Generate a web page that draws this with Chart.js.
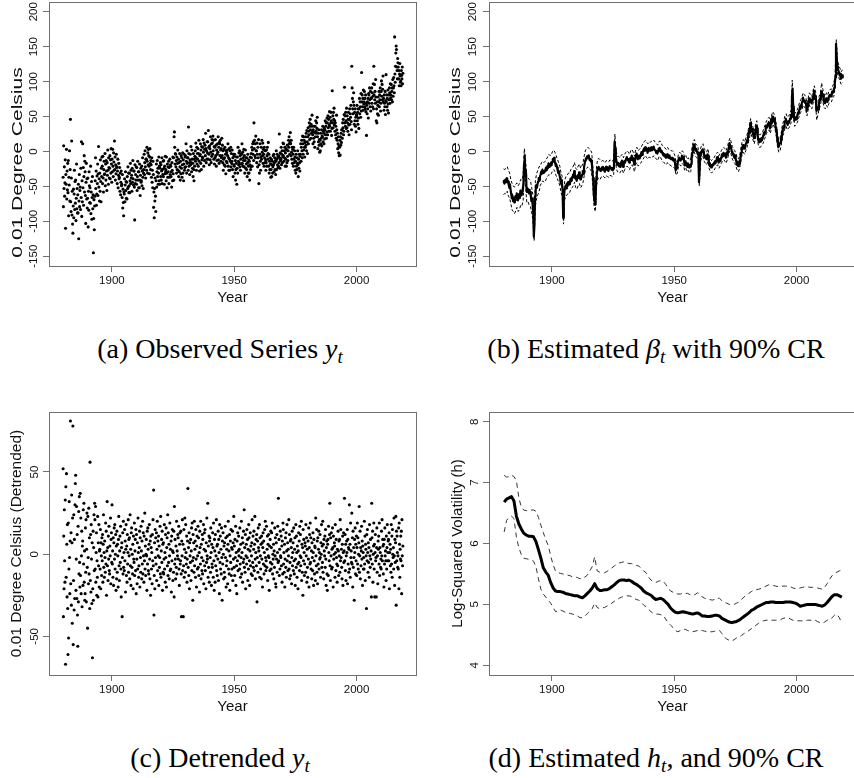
<!DOCTYPE html>
<html>
<head>
<meta charset="utf-8">
<title>Observed series, trend and volatility</title>
<script src="https://cdn.jsdelivr.net/npm/chart.js@4.4.1/dist/chart.umd.min.js"></script>
<style>
  html, body { margin:0; padding:0; background:#fff; }
  body { width:854px; height:778px; overflow:hidden; position:relative; }
  canvas { position:absolute; display:block; }
  .cap { position:absolute; transform:translateX(-50%); white-space:nowrap;
         font-family:"Liberation Serif","Times New Roman",serif; font-size:28px; line-height:32px; color:#000; }
  .cap sub { font-size:19px; line-height:0; vertical-align:-5px; }
</style>
</head>
<body>
<canvas id="cA" width="427" height="310" style="left:0;top:0"></canvas>
<canvas id="cB" width="429" height="310" style="left:427px;top:0"></canvas>
<canvas id="cC" width="427" height="310" style="left:0;top:410px"></canvas>
<canvas id="cD" width="429" height="310" style="left:427px;top:410px"></canvas>
<div class="cap" style="left:220px;top:333px">(a) Observed Series <i>y<sub>t</sub></i></div>
<div class="cap" style="left:656px;top:333px">(b) Estimated <i>β<sub>t</sub></i> with 90% CR</div>
<div class="cap" style="left:220px;top:742px">(c) Detrended <i>y<sub>t</sub></i></div>
<div class="cap" style="left:656px;top:742px">(d) Estimated <i>h<sub>t</sub></i>, and 90% CR</div>
<script>
// ---------------- data ----------------
const firstYear = 1880;                 // every series runs 1880 ... 2018
const xTickYears = [1900, 1950, 2000];
const tempTicks = [-150, -100, -50, 0, 50, 100, 150, 200];
const detTicks = [-50, 0, 50];
const volTicks = [4, 5, 6, 7, 8];

// (a) observed series y_t, 0.01 deg C, eight readings per year (one line per year)
const observed = [
-37,-79,8,-53,-22,-64,-45,-12,
-110,-33,-47,3,-68,-28,-55,-17,
-59,-13,-92,-37,-48,1,-71,-26,
46,-72,-86,-38,15,-91,-57,-104,
-117,-78,-54,-95,-61,-27,-83,-43,
-74,-41,-99,-67,-18,-82,-53,-88,
-62,-88,-47,-125,-71,-33,-79,-56,
-51,-83,-24,-66,14,-93,-42,-72,
11,-52,-23,-77,-36,-6,-58,-14,
-29,-63,-103,-44,-17,-68,-39,-81,
-67,-38,-108,-57,-84,-29,-49,-73,
-52,-74,-21,-89,-58,-43,-97,-66,
-36,-82,-62,-145,-96,-69,-112,-78,
-64,-42,-9,-53,-28,-77,-61,-35,
-46,-18,-63,-32,7,-51,-39,-71,
-31,-57,-12,-43,-72,-24,-36,-8,
-21,-46,-7,-38,-58,-26,-14,-33,
-32,-3,-49,-18,-41,-13,-28,-56,
-16,-34,2,-27,-47,-9,-23,-38,
-24,-6,-39,-12,-31,4,-18,-44,
-11,-29,3,-21,-36,-2,-15,-27,
15,-26,-8,-41,-19,-32,-4,-23,
-22,-46,-28,-11,-52,-34,-17,-39,
-37,-23,-57,-31,-62,-44,-28,-49,
-47,-66,-33,-81,-54,-73,-92,-58,
-61,-39,-72,-48,-29,-56,-43,-67,
-44,-68,-36,-53,-22,-51,-31,-59,
-49,-31,-59,-42,-17,-46,-27,-38,
-34,-57,-24,-44,-13,-39,-48,-28,
-28,-51,-98,-19,-46,-33,-41,-22,
-47,-23,-56,-36,-14,-41,-29,-52,
-29,-52,-18,-41,-63,-34,-24,-44,
-42,-21,-49,-28,-9,-37,-53,-31,
-26,-4,-33,-16,1,-22,-38,-11,
-11,-27,6,-14,-31,-2,-19,3,
-6,-21,-32,-8,4,-17,-26,-13,
-19,-37,-9,-44,-27,-52,-14,-33,
-80,-58,-95,-53,-71,-38,-64,-86,
-42,-18,-51,-29,-13,-36,-24,-47,
-31,-8,-42,-21,-47,-24,-16,-36,
-19,-41,-28,-9,-46,-26,-33,-14,
-36,-13,-24,-47,-21,-32,-7,-29,
-26,-42,-8,-31,-52,-18,-37,-22,
-29,-14,-46,-23,-37,-11,-33,-19,
-21,-36,-29,-51,-16,-27,-42,-8,
-32,-9,-41,21,28,6,-18,-3,
-4,-22,-13,-31,-8,-26,-17,2,
-27,-11,-36,-16,-29,-3,-22,-41,
-14,-32,-6,-24,-9,-37,-19,-2,
-31,-12,-42,-18,-4,-27,-23,-8,
-6,-22,11,-14,-31,1,-17,-9,
-9,-27,35,-3,-21,-16,-33,-12,
-4,-19,7,-16,-29,2,-11,-24,
-17,-36,-3,-26,-42,-11,-21,-7,
1,-14,12,-9,-27,6,-18,-3,
-11,4,-21,-3,16,-14,-28,-6,
-4,11,-17,2,-26,7,-12,-8,
6,-9,17,-1,-21,12,-13,3,
9,-6,26,4,-16,1,-11,14,
-2,14,-11,30,6,-4,-19,8,
4,-12,21,-1,-16,11,-7,17,
12,-4,22,1,16,-11,7,-18,
6,-9,17,-6,9,-21,2,-13,
-4,11,-1,21,-12,6,-17,13,
11,-6,16,2,-14,4,-9,19,
-6,9,-16,1,-27,-11,3,-19,
-9,6,-21,-4,-32,1,-14,-2,
-16,2,-6,11,-21,-9,-27,4,
-11,-27,1,-14,6,-22,-3,-17,
-14,2,-26,-9,-36,-4,-19,-7,
-21,-4,-31,-13,-41,-26,-17,-8,
-47,-24,-8,-31,6,-14,-19,-2,
-16,1,-22,-6,-27,-11,-3,-18,
-4,11,-17,-1,-21,-9,-13,3,
-22,-6,-31,-13,2,-24,-9,-18,
-26,-9,-36,-16,-4,-31,-21,-12,
-31,-14,-41,-19,-8,-26,-22,-3,
-9,6,-21,2,11,-4,14,-13,
41,4,16,-6,11,-9,22,1,
1,-16,12,-4,-22,6,-9,17,
-46,-19,-31,-4,11,-14,-27,-8,
6,-11,16,-1,-6,12,-17,3,
-4,-21,6,-9,-16,1,-12,-27,
-16,2,-21,-6,6,-11,-3,13,
-21,-4,-31,-14,-26,-9,-18,-37,
-26,-11,-36,-19,-14,-31,-22,-6,
-19,-4,-29,-16,-9,-26,-13,-33,
-14,1,-26,-11,-4,-19,-8,-23,
-21,-6,-16,25,-9,-24,-2,-13,
-11,6,-19,-4,1,-16,-8,12,
-6,11,-14,1,-9,6,-21,-2,
-11,4,-21,2,-16,9,-7,-13,
1,16,6,21,11,-4,13,27,
11,-6,16,-1,-11,6,-17,3,
-4,-21,6,-11,-16,1,-8,-27,
-14,-31,-4,-21,-26,-9,-17,1,
-19,-36,-11,-24,-4,-16,-28,-7,
-4,11,-14,6,16,1,-9,22,
11,-4,21,2,16,6,-8,13,
6,21,9,26,1,30,14,-3,
21,34,11,29,24,41,17,36,
46,31,19,39,26,36,52,28,
24,11,31,19,36,14,27,6,
36,21,44,29,26,41,33,49,
21,4,26,14,31,9,17,-1,
16,1,26,11,19,31,8,22,
21,36,14,29,26,11,33,18,
31,44,24,36,41,19,28,48,
41,24,51,34,46,29,38,57,
36,49,29,41,56,44,23,33,
87,41,51,34,56,46,62,38,
44,29,41,24,36,19,52,31,
16,26,4,11,21,-2,8,-6,
6,16,-5,21,9,26,13,31,
31,19,41,34,46,24,29,53,
92,41,51,36,56,44,33,62,
34,51,41,29,46,56,38,24,
46,61,39,54,49,66,43,31,
122,91,76,61,54,71,84,66,
39,56,44,61,36,49,28,53,
51,66,44,56,39,61,48,33,
61,76,54,71,64,49,83,58,
113,71,81,64,76,59,88,68,
71,86,64,76,61,81,57,69,
23,66,54,71,61,76,48,83,
81,69,91,74,64,86,58,77,
76,91,69,84,64,79,97,61,
122,81,96,74,86,69,103,78,
44,61,41,71,54,66,78,52,
71,86,64,81,74,91,58,69,
86,101,79,96,74,89,108,71,
76,59,81,69,64,86,53,73,
110,71,81,64,76,59,88,68,
55,81,74,91,84,69,97,77,
81,96,74,86,91,71,103,79,
91,106,94,84,164,111,99,122,
141,151,146,121,116,104,133,127,
121,104,116,94,111,126,108,99,
101,94,116,109,104,121,97,112
];

// (c) detrended series, 0.01 deg C, eight readings per year (one line per year)
const detrended = [
52,-38,11,-21,27,-4,-17,33,
-67,41,-14,49,6,-26,18,-33,
-61,19,-51,-9,32,-2,-24,8,
81,-18,13,-31,36,7,-42,22,
78,-55,-16,24,-34,9,-27,30,
43,48,-22,-3,29,-27,12,-37,
-56,17,-29,26,-12,35,-5,-20,
37,-13,22,-24,-1,14,-32,5,
8,-19,27,-6,31,-17,2,-28,
-24,16,-11,21,-29,3,25,-8,
-45,23,-2,-18,28,-12,10,-33,
56,-16,12,-23,18,-3,-30,7,
-63,-21,14,-28,4,24,-10,31,
21,-9,29,-17,1,13,-25,-4,
-14,23,-26,7,-7,18,-20,2,
3,-9,15,-21,7,-1,-13,10,
-4,12,-17,6,24,-8,1,-14,
8,-2,-11,19,-6,14,-25,2,
32,-7,4,-16,11,-3,17,-10,
-12,5,-1,22,-18,9,13,-5,
30,-6,2,-14,10,-19,7,16,
-3,18,-9,0,12,-22,5,-15,
14,-11,6,-1,-20,9,23,-7,
-16,2,11,-5,17,-9,-26,4,
7,-38,-2,13,-12,20,-8,1,
-10,15,-4,8,-23,3,18,-13,
5,-17,12,-6,1,21,-11,9,
-1,10,-15,24,-7,3,-19,13,
16,-8,0,-12,6,-21,11,-3,
-5,19,-13,2,9,-10,15,-24,
12,-3,-18,7,-9,22,1,-14,
-7,4,14,-20,10,-2,-11,17,
2,-15,8,-6,20,-12,13,-1,
-17,11,-4,25,-9,5,-13,0,
9,-1,-22,14,-6,16,3,-10,
-12,6,18,-3,-15,8,-25,11,
4,-9,1,-18,12,-4,21,-7,
39,-37,-13,7,-21,15,-2,10,
-6,13,-16,3,20,-10,8,-1,
11,-19,5,-8,-2,17,-12,23,
-14,2,9,-5,14,-22,6,-11,
7,-12,-3,18,-9,1,-17,12,
-2,16,-20,4,10,-7,24,-13,
13,-5,6,-15,-1,19,-10,3,
-9,8,-23,11,-4,15,2,-16,
1,-11,14,-26,29,-6,9,-3,
-15,5,-8,20,-12,2,-1,12,
10,-3,17,-9,-19,6,13,-6,
-4,14,-12,-38,8,-1,21,-10,
6,-38,-7,15,-14,3,22,-2,
-11,18,1,-6,11,-17,-3,8,
40,-8,4,-13,13,-21,7,-1,
-5,9,-16,2,16,-10,19,-4,
-28,12,-2,7,-11,20,-7,3,
8,-14,15,-3,-20,5,11,-9,
-1,17,-8,10,-13,1,-23,14,
4,-6,20,-15,6,-2,-10,12,
-12,9,-4,18,-18,3,13,-7,
15,-10,2,-21,7,-5,22,-1,
-3,31,-14,5,-8,11,-17,8,
10,-2,-11,16,1,-19,6,-6,
-8,13,4,-14,19,-4,-22,9,
2,-17,12,-7,-1,21,-10,5,
-13,6,-3,14,-16,9,1,-24,
18,-5,11,-9,3,-12,16,-2,
-28,8,-6,13,0,-15,5,-11,
7,-14,17,-2,10,-20,-7,3,
-4,11,-18,6,20,-9,2,-12,
12,-22,-1,8,-5,15,-13,4,
-9,3,14,-16,7,-3,23,-8,
5,-13,9,-2,17,-19,1,-7,
-24,8,-4,13,-10,2,11,-1,
3,-9,16,-6,-14,6,-2,20,
-12,1,10,-17,7,-5,14,-3,
27,-8,4,-11,12,-21,-1,6,
-6,15,-2,9,-16,3,-9,18,
10,-4,-19,2,13,-7,5,-12,
-1,7,21,-13,-5,11,-8,3,
14,-10,6,23,-3,-15,1,9,
-7,12,-29,-2,8,-11,16,4,
2,-5,18,-14,10,-1,-9,6,
-15,11,-3,7,-20,4,13,-6,
8,-12,1,15,-7,20,-2,-10,
-4,17,-8,3,11,-16,6,-1,
12,-2,-22,5,-10,9,-5,14,
-9,4,13,-6,19,-12,0,-3,
6,-15,2,-8,16,-1,10,-18,
-20,7,-3,12,-11,1,17,-5,
34,-4,9,-13,3,-9,14,-1,
-2,11,-7,5,-17,8,-12,19,
15,-6,1,-11,6,-20,-3,10,
-8,13,-14,2,18,-4,7,-10,
3,-1,21,-9,12,-15,-5,8,
-13,9,4,-18,-2,14,-7,1,
7,-10,16,-4,-12,3,10,-19,
-3,18,-8,11,1,-14,5,-6,
-21,2,13,-5,8,-10,17,-1,
12,-7,-2,20,-16,6,-11,4,
-25,15,-4,9,1,-13,-6,7,
5,-11,18,-1,10,-17,3,-8,
-14,8,-3,16,-20,4,12,-6,
19,-5,10,-9,2,-15,7,-2,
-10,13,1,-19,9,-4,-12,5,
4,-16,22,-1,-7,15,-11,8,
-18,10,-6,3,14,-9,1,-3,
12,-2,-14,7,0,18,-8,5,
-5,20,-11,6,-15,9,2,-1,
11,-8,15,-3,-19,4,8,-12,
-22,6,9,-13,17,1,-4,12,
31,-7,-16,10,-1,13,-9,3,
-8,16,4,-20,11,-3,0,7,
5,-14,18,1,-10,9,-2,-6,
-17,3,-7,14,2,-13,8,-1,
9,-11,21,-4,15,-2,3,-8,
-15,6,11,-19,1,13,-5,2,
34,-4,12,-10,6,-16,-1,8,
1,15,-18,9,-6,4,-11,3,
30,-9,6,-14,19,-2,2,-5,
25,-6,10,-20,14,-8,4,-2,
-28,9,1,16,-12,6,-4,11,
-13,4,19,-6,10,-9,0,7,
29,-11,-1,14,-15,4,-7,2,
17,-3,8,-19,5,1,-9,-2,
-9,20,-6,11,-16,6,3,-1,
-33,12,-4,15,1,-11,7,-5,
4,-14,18,-1,-8,9,-3,2,
-26,31,10,-6,14,-17,0,5,
19,-9,6,-26,1,12,-4,-2,
-26,4,16,-11,-1,-18,8,3,
11,-6,19,-13,4,1,-8,-3,
-9,14,-1,21,-4,9,5,-12,
6,-20,9,-6,16,-1,2,-4,
-16,11,-9,4,18,-4,1,8,
9,-4,13,-21,1,6,-7,3,
-11,18,-6,11,-14,15,0,-2,
4,-9,22,-1,-19,9,-5,7,
23,-31,14,-4,11,1,-8,-1,
-9,16,-21,19,6,-14,3,-3,
11,-4,14,-24,21,-1,-7,5
];

// (b) estimated trend beta_t, four readings per year (one line per two years)
const betaMean = [
-45,-42,-46,-41, -40,-44,-38,-41,
-43,-48,-52,-47, -55,-61,-67,-63,
-71,-66,-73,-68, -64,-69,-60,-63,
-70,-66,-61,-67, -56,-59,-63,-57,
-54,-46,-18,-6, -34,-27,-52,-58,
-53,-57,-60,-55, -58,-63,-71,-68,
-76,-88,-122,-105, -64,-56,-48,-52,
-47,-43,-38,-41, -36,-33,-29,-32,
-26,-30,-31,-28, -29,-26,-23,-27,
-21,-24,-17,-19, -22,-18,-16,-20,
-15,-11,-13,-9, -14,-17,-21,-19,
-23,-27,-31,-28, -34,-38,-46,-43,
-48,-55,-95,-70, -57,-52,-49,-53,
-46,-50,-44,-47, -43,-47,-39,-42,
-40,-36,-33,-37, -28,-33,-39,-36,
-42,-37,-34,-38, -30,-35,-40,-36,
-37,-33,-28,-32, -23,-18,-13,-10,
-11,-7,-9,-6, -8,-12,-11,-14,
-13,-19,-32,-38, -62,-69,-76,-67,
-40,-31,-26,-23, -22,-26,-25,-28,
-27,-23,-25,-22, -24,-27,-29,-25,
-22,-26,-23,-27, -28,-24,-21,-24,
-23,-26,-24,-27, -24,-19,14,4,
-8,-13,-19,-16, -17,-21,-18,-22,
-19,-15,-13,-17, -22,-18,-14,-16,
-13,-10,-8,-12, -11,-14,-16,-13,
-9,-12,-6,-9, -13,-10,-19,-17,
-9,-6,-3,-7, -11,-8,-6,-10,
-7,-4,-1,-5, -1,2,4,1,
6,3,1,4, -2,2,5,1,
1,4,6,2, 2,5,7,3,
3,1,-2,1, -3,0,4,2,
5,2,-1,1, -2,-4,-6,-4,
-5,-8,-9,-7, -4,-7,-9,-6,
-7,-10,-11,-9, -9,-12,-13,-11,
-13,-18,-27,-22, -24,-18,-13,-10,
-9,-12,-13,-11, -6,-9,-11,-8,
-16,-20,-14,-17, -19,-22,-17,-19,
-23,-20,-21,-18, -8,-2,6,3,
10,6,1,4, 2,-1,-4,-2,
-44,-28,-6,-3, -1,2,3,0,
-4,-7,-9,-6, -11,-8,-4,-7,
-14,-17,-21,-19, -23,-20,-21,-18,
-19,-16,-14,-17, -13,-10,-8,-12,
-16,-13,-11,-14, -9,-6,-4,-7,
-2,-5,-6,-3, -9,-6,-1,-4,
3,7,12,8, 6,3,-1,-4,
-4,-7,-9,-6, -11,-14,-19,-16,
-21,-18,-14,-17, -7,-2,6,3,
9,6,4,7, 8,12,16,13,
20,25,30,26, 41,35,29,32,
26,23,19,22, 28,32,37,33,
22,18,13,16, 14,17,19,16,
19,23,27,24, 28,32,37,34,
37,40,42,38, 33,37,44,40,
50,46,43,47, 42,37,31,28,
17,12,6,9, 9,13,19,16,
28,32,36,34, 40,44,47,43,
41,38,43,41, 44,47,52,49,
78,90,64,56, 44,47,49,46,
49,52,56,54, 60,64,66,63,
69,72,77,74, 73,70,71,68,
58,63,69,66, 76,73,71,74,
69,73,79,76, 87,82,77,79,
58,62,63,60, 68,72,76,74,
86,83,79,81, 73,70,69,71,
76,73,71,74, 77,80,81,79,
79,83,86,84, 86,91,98,106,
154,138,122,117, 116,112,109,111,
104,107,109,106
];
// 90% credible band for beta_t, two readings per year (one line per five years)
const betaLower = [
-62,-60, -61,-57, -64,-67, -75,-84, -86,-89,
-85,-80, -86,-83, -77,-78, -70,-30, -50,-73,
-72,-77, -79,-88, -98,-128, -78,-68, -62,-58,
-49,-45, -42,-44, -43,-39, -36,-33, -34,-32,
-28,-26, -29,-35, -39,-44, -49,-59, -64,-104,
-69,-64, -62,-59, -59,-54, -52,-49, -44,-52,
-54,-49, -46,-52, -49,-44, -34,-26, -24,-22,
-24,-26, -29,-49, -79,-86, -49,-39, -38,-40,
-36,-35, -36,-38, -35,-36, -37,-34, -35,-36,
-33,-5, -21,-29, -29,-31, -28,-26, -31,-26,
-23,-21, -23,-26, -21,-19, -23,-29, -19,-16,
-21,-19, -17,-14, -11,-8, -6,-9, -11,-8,
-9,-7, -8,-6, -9,-11, -13,-8, -7,-11,
-14,-16, -17,-19, -16,-19, -19,-21, -21,-23,
-24,-34, -31,-21, -19,-21, -17,-19, -27,-24,
-29,-27, -31,-29, -14,-4, -1,-7, -9,-12,
-49,-14, -9,-7, -14,-17, -19,-14, -24,-29,
-31,-29, -27,-24, -21,-19, -24,-21, -17,-14,
-12,-14, -17,-11, -4,1, -4,-11, -14,-17,
-21,-27, -29,-24, -14,-4, -1,-4, 1,6,
13,19, 29,21, 16,11, 21,26, 11,6,
6,9, 11,16, 21,26, 29,31, 26,33,
39,36, 31,21, 6,-1, 1,9, 21,26,
33,36, 31,33, 36,41, 74,51, 36,39,
41,46, 53,56, 61,66, 63,61, 51,59,
66,63, 61,69, 76,69, 45,53, 61,66,
76,71, 63,61, 66,63, 69,71, 71,76,
79,91, 138,110, 106,101, 96,99
];
const betaUpper = [
-25,-26, -23,-22, -27,-31, -41,-46, -50,-51,
-47,-45, -49,-46, -40,-41, -34,4, -12,-37,
-38,-40, -42,-52, -62,-98, -42,-32, -27,-22,
-21,-16, -14,-16, -14,-11, -8,-4, -6,-5,
0,2, -1,-6, -11,-16, -21,-31, -36,-72,
-41,-36, -34,-31, -31,-26, -24,-21, -16,-24,
-26,-21, -18,-24, -21,-16, -6,2, 4,6,
4,2, -1,-21, -51,-58, -21,-11, -10,-12,
-14,-13, -14,-16, -13,-14, -15,-12, -13,-14,
-11,25, 1,-7, -7,-9, -6,-4, -9,-4,
-1,1, -1,-4, 1,3, -1,-7, 3,6,
1,3, 5,8, 11,14, 16,13, 11,14,
13,15, 14,16, 13,11, 9,14, 15,11,
8,6, 5,3, 6,3, 3,1, 1,-1,
-6,-16, -13,-3, -1,-3, 1,-1, -9,-6,
-11,-9, -13,-11, 4,14, 17,11, 9,6,
-31,4, 9,11, 4,1, -1,4, -6,-11,
-13,-11, -9,-6, -3,-1, -6,-3, 1,4,
6,4, 1,7, 14,19, 14,7, 4,1,
-3,-9, -11,-6, 4,14, 17,14, 19,24,
31,37, 47,39, 34,29, 39,44, 29,24,
24,27, 29,34, 39,44, 47,49, 44,51,
57,54, 49,39, 24,17, 19,27, 39,44,
51,54, 49,51, 54,59, 102,69, 54,57,
59,64, 71,74, 79,84, 81,79, 69,77,
84,81, 79,87, 94,87, 69,71, 79,84,
98,89, 81,79, 84,81, 87,89, 89,94,
97,110, 160,130, 124,119, 114,117
];

// (d) log-squared volatility h_t and its 90% band, one reading per year (one line per decade)
const volMean = [
6.68,6.73,6.75,6.77,6.70,6.45,6.32,6.24,6.17,6.14,
6.12,6.12,6.11,6.03,5.90,5.76,5.60,5.53,5.48,5.36,
5.27,5.22,5.21,5.21,5.20,5.18,5.17,5.16,5.15,5.14,
5.14,5.12,5.11,5.14,5.18,5.22,5.27,5.34,5.26,5.23,
5.23,5.24,5.24,5.26,5.29,5.32,5.36,5.39,5.40,5.40,
5.39,5.40,5.38,5.35,5.33,5.30,5.27,5.22,5.19,5.17,
5.15,5.11,5.08,5.09,5.10,5.08,5.04,5.00,4.94,4.90,
4.87,4.86,4.87,4.88,4.87,4.86,4.85,4.84,4.85,4.86,
4.84,4.81,4.81,4.80,4.80,4.81,4.82,4.82,4.81,4.77,
4.75,4.73,4.71,4.70,4.71,4.72,4.74,4.77,4.80,4.83,
4.86,4.90,4.92,4.95,4.97,4.99,5.01,5.03,5.03,5.04,
5.04,5.03,5.03,5.03,5.03,5.04,5.04,5.04,5.03,5.02,
5.00,4.97,4.98,4.99,5.00,5.00,5.00,5.00,4.99,4.98,
4.97,4.99,5.03,5.08,5.13,5.16,5.16,5.14,5.12
];
const volUpper = [
7.12,7.09,7.10,7.12,7.10,7.03,6.75,6.60,6.55,6.54,
6.54,6.55,6.55,6.53,6.43,6.30,6.18,6.06,5.97,5.80,
5.65,5.55,5.52,5.51,5.50,5.49,5.48,5.47,5.45,5.45,
5.44,5.42,5.42,5.45,5.48,5.55,5.62,5.78,5.55,5.53,
5.52,5.52,5.54,5.57,5.60,5.63,5.66,5.68,5.69,5.70,
5.69,5.67,5.67,5.66,5.64,5.63,5.59,5.55,5.52,5.45,
5.40,5.37,5.36,5.38,5.39,5.38,5.33,5.27,5.22,5.20,
5.18,5.17,5.17,5.18,5.18,5.18,5.16,5.15,5.16,5.19,
5.17,5.12,5.10,5.09,5.08,5.07,5.08,5.10,5.10,5.06,
5.03,5.02,5.00,4.99,5.00,5.02,5.04,5.08,5.12,5.15,
5.18,5.21,5.23,5.24,5.25,5.26,5.28,5.30,5.32,5.32,
5.31,5.30,5.29,5.30,5.30,5.30,5.30,5.29,5.27,5.26,
5.26,5.27,5.28,5.29,5.29,5.28,5.28,5.28,5.27,5.26,
5.25,5.28,5.34,5.41,5.47,5.51,5.53,5.55,5.56
];
const volLower = [
6.19,6.38,6.43,6.45,6.41,6.11,5.93,5.82,5.76,5.75,
5.74,5.73,5.71,5.62,5.42,5.25,5.17,5.12,5.07,5.02,
4.95,4.88,4.89,4.91,4.89,4.87,4.86,4.85,4.84,4.83,
4.81,4.78,4.78,4.81,4.85,4.89,4.93,5.02,4.95,4.93,
4.94,4.95,4.97,4.99,5.02,5.05,5.08,5.10,5.12,5.13,
5.14,5.14,5.13,5.10,5.08,5.07,5.03,4.99,4.96,4.92,
4.88,4.85,4.84,4.84,4.83,4.82,4.76,4.70,4.66,4.62,
4.57,4.55,4.57,4.59,4.59,4.57,4.56,4.55,4.56,4.57,
4.57,4.57,4.56,4.55,4.55,4.55,4.56,4.57,4.57,4.52,
4.46,4.43,4.41,4.40,4.42,4.45,4.46,4.49,4.52,4.54,
4.57,4.60,4.63,4.66,4.69,4.72,4.73,4.74,4.74,4.74,
4.74,4.74,4.74,4.75,4.77,4.78,4.78,4.76,4.74,4.73,
4.73,4.73,4.73,4.73,4.74,4.74,4.74,4.74,4.72,4.70,
4.69,4.71,4.74,4.75,4.78,4.82,4.84,4.78,4.69
];

// ---------------- drawing ----------------
const FONT = '"Liberation Sans", Arial, Helvetica, sans-serif';
const INK = '#111';
const FRAME = '#707070';
const X_RANGE = [1874.3, 2024.3];

function series(values, perYear) {
  return values.map((v, i) => ({ x: firstYear + (i + 0.5) / perYear, y: v }));
}

function makeDecor(o) {
  return {
    id: 'decor',
    afterDraw(chart) {
      const { ctx, chartArea: a } = chart;
      const ys = chart.scales.y;
      ctx.save();
      const L = Math.round(a.left) + 0.5, T = Math.round(a.top) + 0.5;
      const R = Math.round(a.right) + 0.5, B = Math.round(a.bottom) + 0.5;
      ctx.strokeStyle = FRAME; ctx.lineWidth = 1;
      ctx.strokeRect(L, T, R - L, B - T);
      ctx.fillStyle = INK;
      ctx.textAlign = 'center'; ctx.textBaseline = 'alphabetic';
      ctx.font = '11.5px ' + FONT;
      o.ticks.forEach(v => {
        ctx.save();
        ctx.translate(a.left - o.tickOff, ys.getPixelForValue(v));
        ctx.rotate(-Math.PI / 2);
        ctx.fillText(String(v), 0, 0);
        ctx.restore();
      });
      ctx.font = o.titleSize + 'px ' + FONT;
      ctx.save();
      ctx.translate(a.left - o.titleOff, (a.top + a.bottom) / 2 + o.titleShift);
      ctx.rotate(-Math.PI / 2);
      ctx.scale(o.stretch, 1);
      ctx.fillText(o.title, 0, 0);
      ctx.restore();
      ctx.font = '15px ' + FONT;
      ctx.fillText('Year', (a.left + a.right) / 2, a.bottom + 35.5);
      ctx.restore();
    }
  };
}

function makeChart(id, cfg) {
  return new Chart(document.getElementById(id), {
    type: cfg.type,
    data: { datasets: cfg.datasets },
    options: {
      responsive: false, animation: false, events: [],
      layout: { padding: cfg.padding },
      plugins: { legend: { display: false }, tooltip: { enabled: false } },
      elements: { line: { tension: 0 } },
      scales: {
        x: {
          type: 'linear', min: X_RANGE[0], max: X_RANGE[1],
          afterBuildTicks: s => { s.ticks = xTickYears.map(v => ({ value: v })); },
          afterFit: s => { s.height = cfg.xAxisHeight; },
          grid: { drawOnChartArea: false, drawTicks: true, tickLength: 6, color: FRAME },
          border: { display: false },
          ticks: { font: { family: FONT, size: 11.5 }, color: INK, padding: 2,
                   maxRotation: 0, minRotation: 0, autoSkip: false, callback: v => String(v) }
        },
        y: {
          type: 'linear', min: cfg.yRange[0], max: cfg.yRange[1],
          afterBuildTicks: s => { s.ticks = cfg.decor.ticks.map(v => ({ value: v })); },
          afterFit: s => { s.width = cfg.yAxisWidth; },
          grid: { drawOnChartArea: false, drawTicks: true, tickLength: 6, color: FRAME },
          border: { display: false },
          ticks: { display: false }
        }
      }
    },
    plugins: [makeDecor(cfg.decor)]
  });
}

const dots = values => ({ data: series(values, 8), pointRadius: 1.55, pointBackgroundColor: '#000',
                          pointBorderWidth: 0, pointHoverRadius: 0, showLine: false });
const line = (data, width, dash, color) => ({ data, borderColor: color || '#000', borderWidth: width,
                          borderDash: dash || [], pointRadius: 0, fill: false,
                          borderJoinStyle: 'round', borderCapStyle: 'butt' });

makeChart('cA', {
  type: 'scatter', datasets: [dots(observed)],
  padding: { top: 2, right: 11, bottom: 0, left: 0 }, yAxisWidth: 49, xAxisHeight: 44,
  yRange: [-164, 214],
  decor: { ticks: tempTicks, tickOff: 12, title: '0.01 Degree Celsius', titleSize: 15,
           stretch: 1.4, titleOff: 27.5, titleShift: 28.5 }
});

makeChart('cB', {
  type: 'line',
  datasets: [
    line(series(betaMean, 4), 2.2),
    line(series(betaLower, 2), 1, [3, 2]),
    line(series(betaUpper, 2), 1, [3, 2])
  ],
  padding: { top: 2, right: 0, bottom: 0, left: 0 }, yAxisWidth: 62, xAxisHeight: 44,
  yRange: [-164, 214],
  decor: { ticks: tempTicks, tickOff: 13, title: '0.01 Degree Celsius', titleSize: 15,
           stretch: 1.4, titleOff: 29, titleShift: 28.5 }
});

makeChart('cC', {
  type: 'scatter', datasets: [dots(detrended)],
  padding: { top: 2, right: 11, bottom: 0, left: 0 }, yAxisWidth: 49, xAxisHeight: 45,
  yRange: [-73.5, 86.5],
  decor: { ticks: detTicks, tickOff: 11.5, title: '0.01 Degree Celsius (Detrended)', titleSize: 15.5,
           stretch: 1, titleOff: 27.6, titleShift: 0 }
});

makeChart('cD', {
  type: 'line',
  datasets: [
    line(series(volMean, 1), 3),
    line(series(volLower, 1), 1, [5, 4], '#333'),
    line(series(volUpper, 1), 1, [5, 4], '#333')
  ],
  padding: { top: 2, right: 0, bottom: 0, left: 0 }, yAxisWidth: 62, xAxisHeight: 45,
  yRange: [3.84, 8.16],
  decor: { ticks: volTicks, tickOff: 11.5, title: 'Log-Squared Volatility (h)', titleSize: 15,
           stretch: 1, titleOff: 27.3, titleShift: 0 }
});
</script>
</body>
</html>
